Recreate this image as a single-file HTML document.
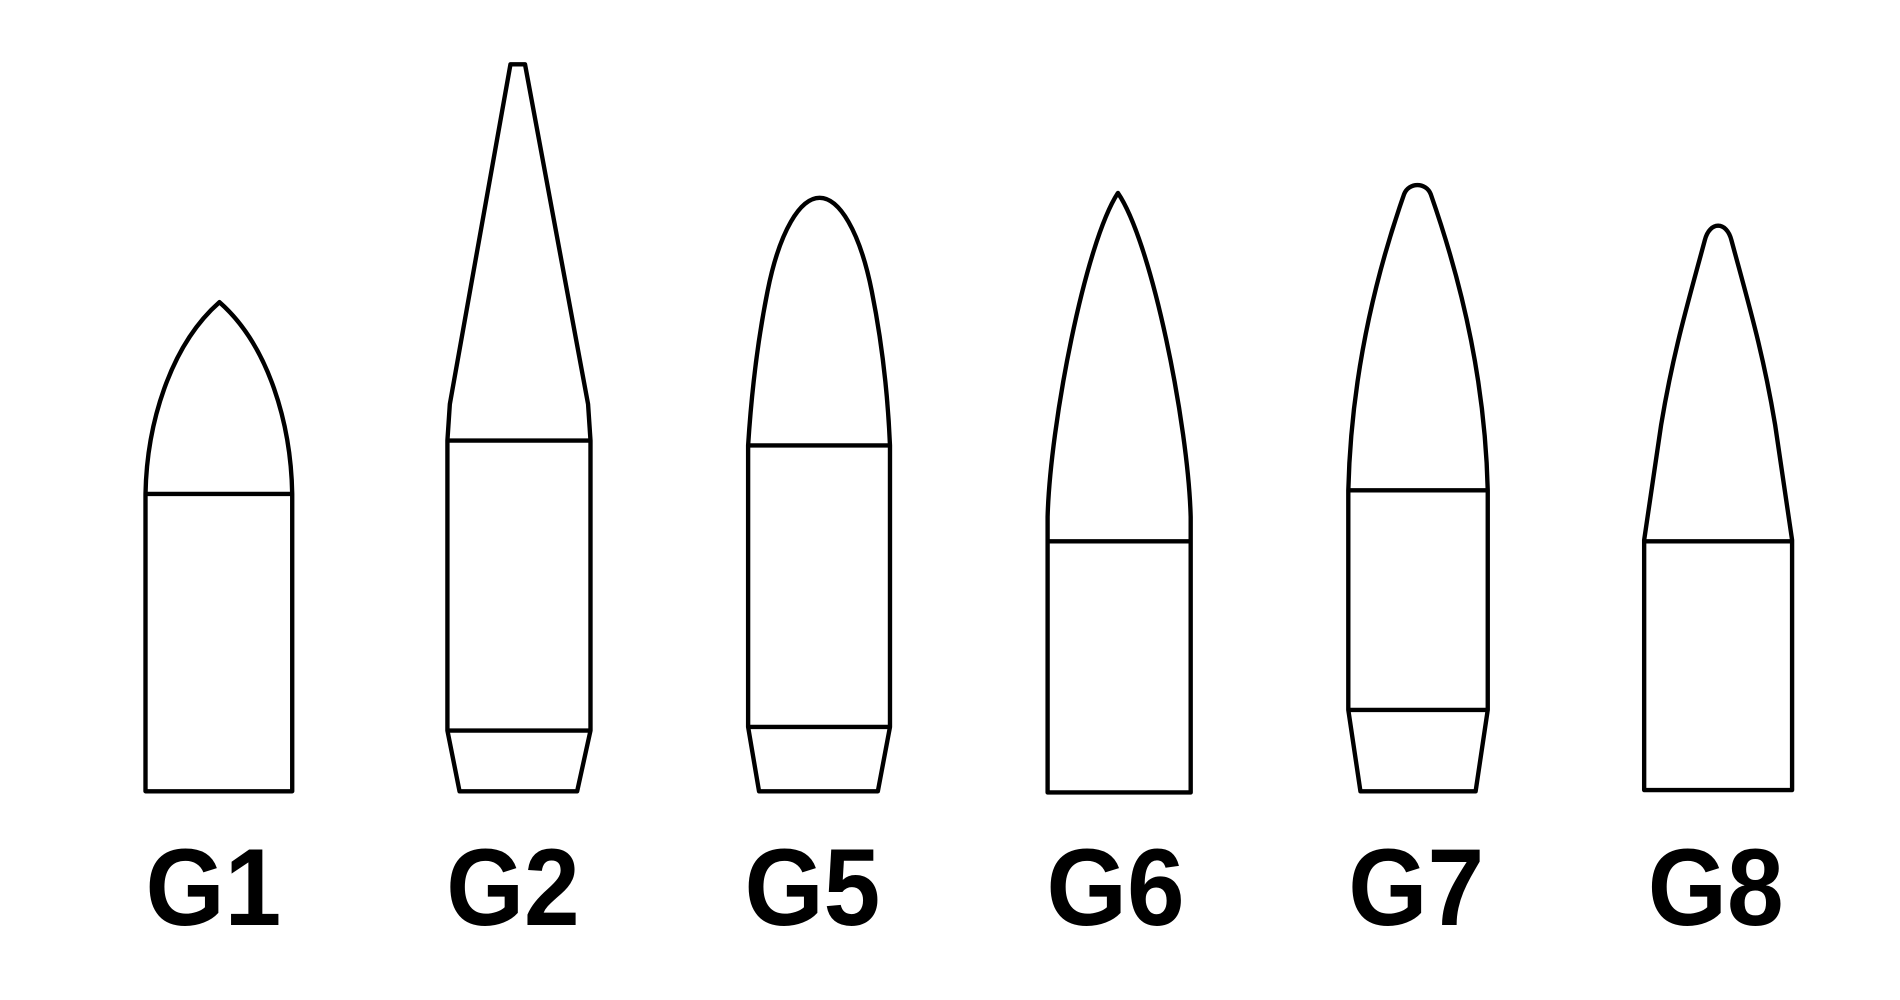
<!DOCTYPE html>
<html><head><meta charset="utf-8"><style>
html,body{margin:0;padding:0;background:#fff;width:1900px;height:1000px;overflow:hidden}
svg{display:block}
text{font-family:"Liberation Sans",sans-serif;font-weight:bold;font-size:90px;fill:#000}
</style></head><body>
<svg width="1900" height="1000" viewBox="0 0 1567 824" preserveAspectRatio="none">
<g fill="none" stroke="#000" stroke-width="3.6" stroke-linejoin="round">
 <g>
  <path d="M120,407 C121,350 140,285 181,249 C222,285 240,350 241,407 L241,652 L120,652 Z"/>
  <line x1="120" y1="407" x2="241" y2="407"/>
 </g>
 <g>
  <path d="M421,53 L433,53 L485,333 L487,363 L487,602 L476,652 L379,652 L369,602 L369,363 L371,333 Z"/>
  <line x1="369" y1="363" x2="487" y2="363"/>
  <line x1="369" y1="602" x2="487" y2="602"/>
 </g>
 <g>
  <path d="M617,367 C620,320 625,280 633,240 C643,190 660,163 676,163 C692,163 709,190 719,240 C727,280 732,320 734,367 L734,599 L724,652 L626,652 L617,599 Z"/>
  <line x1="617" y1="367" x2="734" y2="367"/>
  <line x1="617" y1="599" x2="734" y2="599"/>
 </g>
 <g>
  <path d="M864,426 C866,350 895,200 922,159 C950,200 980,350 982,426 L982,653 L864,653 Z"/>
  <line x1="864" y1="446" x2="982" y2="446"/>
 </g>
 <g>
  <path d="M1112,404 C1114,320 1130,240 1158,160 C1162,150 1176,150 1180,160 C1208,240 1225,320 1227,404 L1227,585 L1217,652 L1122,652 L1112,585 Z"/>
  <line x1="1112" y1="404" x2="1227" y2="404"/>
  <line x1="1112" y1="585" x2="1227" y2="585"/>
 </g>
 <g>
  <path d="M1356,445 L1370,350 C1380,290 1392,250 1406,198 C1410,182 1424,182 1428,198 C1442,250 1454,290 1464,350 L1478,445 L1478,651 L1356,651 Z"/>
  <line x1="1356" y1="446" x2="1478" y2="446"/>
 </g>
</g>
<text x="176" y="762" text-anchor="middle" textLength="112" lengthAdjust="spacingAndGlyphs">G1</text>
<text x="423" y="762" text-anchor="middle" textLength="110" lengthAdjust="spacingAndGlyphs">G2</text>
<text x="670" y="762" text-anchor="middle" textLength="112" lengthAdjust="spacingAndGlyphs">G5</text>
<text x="920" y="762" text-anchor="middle" textLength="114" lengthAdjust="spacingAndGlyphs">G6</text>
<text x="1168" y="762" text-anchor="middle" textLength="112" lengthAdjust="spacingAndGlyphs">G7</text>
<text x="1415" y="762" text-anchor="middle" textLength="112" lengthAdjust="spacingAndGlyphs">G8</text>
</svg>
</body></html>
